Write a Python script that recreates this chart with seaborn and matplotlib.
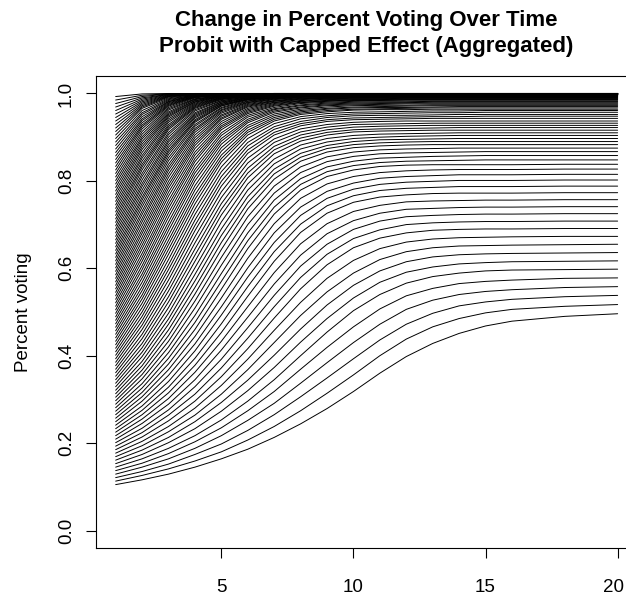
"""
Change in percent voting over time - probit with capped effect (aggregated).
One black line per starting group, values read off the original chart.
"""

import matplotlib
matplotlib.use("Agg")
import matplotlib.pyplot as plt
import matplotlib.transforms as mtransforms
import pandas as pd
import seaborn as sns

# ==================== Data (one list per time point, one entry per line) ====================
time_points = [1, 2, 3, 4, 5, 6, 7, 8, 9, 10, 11, 12, 13, 14, 15, 16, 18, 20]

p_t01 = [0.105, 0.113, 0.121, 0.129, 0.137, 0.145, 0.153, 0.161, 0.169, 0.177,
         0.185, 0.193, 0.201, 0.209, 0.217, 0.225, 0.233, 0.241, 0.249, 0.257,
         0.265, 0.273, 0.281, 0.289, 0.297, 0.305, 0.313, 0.321, 0.329, 0.337,
         0.345, 0.353, 0.361, 0.369, 0.377, 0.385, 0.393, 0.401, 0.409, 0.417,
         0.425, 0.433, 0.441, 0.449, 0.457, 0.465, 0.473, 0.481, 0.489, 0.497,
         0.505, 0.513, 0.521, 0.529, 0.537, 0.545, 0.553, 0.561, 0.569, 0.577,
         0.585, 0.593, 0.601, 0.609, 0.617, 0.625, 0.633, 0.641, 0.649, 0.657,
         0.665, 0.673, 0.681, 0.689, 0.697, 0.705, 0.713, 0.721, 0.729, 0.737,
         0.745, 0.753, 0.761, 0.769, 0.777, 0.785, 0.793, 0.801, 0.809, 0.817,
         0.825, 0.833, 0.841, 0.849, 0.857, 0.865, 0.873, 0.881, 0.889, 0.897,
         0.905, 0.913, 0.921, 0.929, 0.937, 0.945, 0.953, 0.961, 0.969, 0.977,
         0.985, 0.993]

p_t02 = [0.116, 0.126, 0.135, 0.145, 0.154, 0.164, 0.174, 0.184, 0.194, 0.204,
         0.214, 0.224, 0.234, 0.245, 0.255, 0.265, 0.275, 0.285, 0.296, 0.306,
         0.316, 0.326, 0.336, 0.347, 0.357, 0.367, 0.377, 0.387, 0.398, 0.408,
         0.418, 0.428, 0.439, 0.449, 0.460, 0.470, 0.480, 0.490, 0.500, 0.510,
         0.520, 0.530, 0.539, 0.549, 0.558, 0.568, 0.578, 0.587, 0.597, 0.606,
         0.616, 0.625, 0.634, 0.644, 0.653, 0.662, 0.671, 0.680, 0.688, 0.697,
         0.706, 0.714, 0.723, 0.731, 0.740, 0.748, 0.756, 0.763, 0.771, 0.779,
         0.787, 0.794, 0.802, 0.810, 0.817, 0.825, 0.832, 0.838, 0.845, 0.852,
         0.858, 0.865, 0.872, 0.878, 0.884, 0.890, 0.896, 0.901, 0.907, 0.913,
         0.919, 0.924, 0.928, 0.933, 0.938, 0.942, 0.947, 0.952, 0.956, 0.961,
         0.966, 0.969, 0.972, 0.975, 0.978, 0.981, 0.984, 0.987, 0.990, 0.993,
         0.996, 0.999]

p_t03 = [0.129, 0.141, 0.152, 0.164, 0.176, 0.188, 0.201, 0.213, 0.226, 0.238,
         0.251, 0.264, 0.276, 0.289, 0.302, 0.315, 0.328, 0.341, 0.355, 0.368,
         0.381, 0.394, 0.407, 0.420, 0.433, 0.446, 0.459, 0.472, 0.484, 0.497,
         0.510, 0.523, 0.535, 0.548, 0.560, 0.573, 0.585, 0.597, 0.608, 0.620,
         0.632, 0.643, 0.654, 0.664, 0.675, 0.686, 0.696, 0.706, 0.717, 0.727,
         0.737, 0.746, 0.755, 0.765, 0.774, 0.783, 0.791, 0.799, 0.808, 0.816,
         0.824, 0.831, 0.838, 0.846, 0.853, 0.860, 0.866, 0.871, 0.877, 0.883,
         0.889, 0.894, 0.900, 0.906, 0.911, 0.917, 0.921, 0.925, 0.929, 0.934,
         0.938, 0.942, 0.946, 0.949, 0.952, 0.955, 0.958, 0.962, 0.965, 0.968,
         0.971, 0.973, 0.975, 0.977, 0.979, 0.981, 0.982, 0.984, 0.986, 0.988,
         0.990, 0.992, 0.993, 0.994, 0.995, 0.996, 0.997, 0.998, 0.998, 0.999,
         0.999, 1.000]

p_t04 = [0.145, 0.159, 0.174, 0.188, 0.203, 0.217, 0.233, 0.249, 0.264, 0.280,
         0.296, 0.312, 0.329, 0.345, 0.362, 0.378, 0.394, 0.411, 0.427, 0.444,
         0.460, 0.476, 0.492, 0.509, 0.525, 0.541, 0.556, 0.571, 0.586, 0.601,
         0.616, 0.630, 0.644, 0.658, 0.672, 0.686, 0.698, 0.710, 0.723, 0.735,
         0.747, 0.758, 0.768, 0.779, 0.789, 0.800, 0.809, 0.818, 0.826, 0.835,
         0.844, 0.851, 0.859, 0.866, 0.874, 0.881, 0.887, 0.893, 0.899, 0.905,
         0.911, 0.916, 0.920, 0.925, 0.929, 0.934, 0.937, 0.940, 0.944, 0.947,
         0.950, 0.953, 0.956, 0.960, 0.963, 0.966, 0.968, 0.970, 0.972, 0.974,
         0.976, 0.978, 0.980, 0.981, 0.983, 0.984, 0.986, 0.987, 0.988, 0.990,
         0.991, 0.992, 0.992, 0.993, 0.993, 0.994, 0.995, 0.995, 0.996, 0.996,
         0.997, 0.997, 0.998, 0.998, 0.998, 0.999, 0.999, 0.999, 0.999, 1.000,
         1.000, 1.000]

p_t05 = [0.164, 0.180, 0.198, 0.217, 0.235, 0.253, 0.273, 0.293, 0.312, 0.332,
         0.352, 0.372, 0.392, 0.413, 0.433, 0.453, 0.473, 0.493, 0.512, 0.532,
         0.552, 0.570, 0.588, 0.607, 0.625, 0.643, 0.659, 0.675, 0.690, 0.706,
         0.722, 0.735, 0.748, 0.762, 0.775, 0.788, 0.799, 0.810, 0.821, 0.832,
         0.843, 0.851, 0.859, 0.868, 0.876, 0.884, 0.891, 0.897, 0.904, 0.910,
         0.917, 0.922, 0.926, 0.931, 0.936, 0.941, 0.944, 0.948, 0.951, 0.955,
         0.958, 0.961, 0.963, 0.966, 0.968, 0.971, 0.972, 0.974, 0.975, 0.977,
         0.978, 0.980, 0.981, 0.983, 0.984, 0.986, 0.987, 0.988, 0.989, 0.990,
         0.990, 0.991, 0.992, 0.993, 0.993, 0.994, 0.994, 0.995, 0.995, 0.996,
         0.996, 0.997, 0.997, 0.997, 0.998, 0.998, 0.998, 0.998, 0.999, 0.999,
         0.999, 0.999, 0.999, 0.999, 0.999, 0.999, 1.000, 1.000, 1.000, 1.000,
         1.000, 1.000]

p_t06 = [0.186, 0.207, 0.229, 0.252, 0.274, 0.296, 0.320, 0.344, 0.368, 0.392,
         0.416, 0.440, 0.464, 0.488, 0.512, 0.536, 0.558, 0.580, 0.601, 0.623,
         0.645, 0.663, 0.681, 0.700, 0.718, 0.736, 0.750, 0.764, 0.779, 0.793,
         0.807, 0.818, 0.829, 0.841, 0.852, 0.863, 0.871, 0.880, 0.888, 0.897,
         0.905, 0.911, 0.916, 0.922, 0.927, 0.933, 0.937, 0.941, 0.946, 0.950,
         0.954, 0.957, 0.960, 0.963, 0.966, 0.969, 0.971, 0.973, 0.975, 0.977,
         0.979, 0.980, 0.982, 0.983, 0.985, 0.986, 0.987, 0.987, 0.988, 0.989,
         0.990, 0.990, 0.991, 0.992, 0.992, 0.993, 0.993, 0.994, 0.994, 0.995,
         0.995, 0.996, 0.996, 0.997, 0.997, 0.997, 0.997, 0.998, 0.998, 0.998,
         0.998, 0.998, 0.999, 0.999, 0.999, 0.999, 0.999, 0.999, 0.999, 0.999,
         0.999, 0.999, 0.999, 0.999, 0.999, 0.999, 1.000, 1.000, 1.000, 1.000,
         1.000, 1.000]

p_t07 = [0.213, 0.238, 0.265, 0.291, 0.318, 0.345, 0.373, 0.401, 0.430, 0.458,
         0.486, 0.512, 0.538, 0.564, 0.590, 0.616, 0.638, 0.659, 0.681, 0.702,
         0.724, 0.740, 0.756, 0.772, 0.788, 0.804, 0.816, 0.827, 0.839, 0.850,
         0.862, 0.871, 0.879, 0.888, 0.896, 0.905, 0.911, 0.918, 0.924, 0.931,
         0.937, 0.941, 0.945, 0.949, 0.953, 0.957, 0.960, 0.963, 0.965, 0.968,
         0.971, 0.973, 0.975, 0.977, 0.979, 0.980, 0.982, 0.983, 0.984, 0.986,
         0.987, 0.988, 0.989, 0.990, 0.990, 0.991, 0.992, 0.992, 0.993, 0.993,
         0.994, 0.994, 0.995, 0.995, 0.995, 0.996, 0.996, 0.997, 0.997, 0.997,
         0.997, 0.998, 0.998, 0.998, 0.998, 0.998, 0.999, 0.999, 0.999, 0.999,
         0.999, 0.999, 0.999, 0.999, 0.999, 0.999, 0.999, 0.999, 0.999, 0.999,
         1.000, 1.000, 1.000, 1.000, 1.000, 1.000, 1.000, 1.000, 1.000, 1.000,
         1.000, 1.000]

p_t08 = [0.244, 0.274, 0.306, 0.337, 0.369, 0.400, 0.431, 0.461, 0.492, 0.522,
         0.553, 0.579, 0.605, 0.630, 0.656, 0.682, 0.701, 0.721, 0.740, 0.760,
         0.779, 0.792, 0.805, 0.819, 0.832, 0.845, 0.854, 0.863, 0.873, 0.882,
         0.891, 0.898, 0.905, 0.912, 0.919, 0.926, 0.931, 0.936, 0.942, 0.947,
         0.952, 0.955, 0.958, 0.961, 0.964, 0.967, 0.969, 0.972, 0.974, 0.977,
         0.979, 0.980, 0.982, 0.983, 0.984, 0.986, 0.987, 0.988, 0.989, 0.990,
         0.991, 0.992, 0.992, 0.993, 0.993, 0.994, 0.994, 0.995, 0.995, 0.995,
         0.995, 0.996, 0.996, 0.996, 0.996, 0.997, 0.997, 0.997, 0.997, 0.998,
         0.998, 0.998, 0.998, 0.998, 0.998, 0.998, 0.999, 0.999, 0.999, 0.999,
         0.999, 0.999, 0.999, 0.999, 0.999, 0.999, 0.999, 0.999, 0.999, 0.999,
         1.000, 1.000, 1.000, 1.000, 1.000, 1.000, 1.000, 1.000, 1.000, 1.000,
         1.000, 1.000]

p_t09 = [0.279, 0.314, 0.349, 0.384, 0.419, 0.454, 0.485, 0.516, 0.546, 0.577,
         0.608, 0.632, 0.655, 0.679, 0.702, 0.726, 0.743, 0.760, 0.776, 0.793,
         0.810, 0.821, 0.832, 0.844, 0.855, 0.866, 0.874, 0.881, 0.889, 0.897,
         0.905, 0.911, 0.917, 0.923, 0.929, 0.936, 0.940, 0.945, 0.949, 0.954,
         0.958, 0.961, 0.964, 0.966, 0.969, 0.972, 0.974, 0.976, 0.978, 0.980,
         0.982, 0.983, 0.984, 0.986, 0.987, 0.988, 0.989, 0.990, 0.990, 0.991,
         0.992, 0.993, 0.993, 0.994, 0.994, 0.995, 0.995, 0.995, 0.996, 0.996,
         0.996, 0.996, 0.997, 0.997, 0.997, 0.997, 0.998, 0.998, 0.998, 0.998,
         0.998, 0.998, 0.998, 0.998, 0.998, 0.999, 0.999, 0.999, 0.999, 0.999,
         0.999, 0.999, 0.999, 0.999, 0.999, 0.999, 0.999, 0.999, 0.999, 0.999,
         1.000, 1.000, 1.000, 1.000, 1.000, 1.000, 1.000, 1.000, 1.000, 1.000,
         1.000, 1.000]

p_t10 = [0.318, 0.356, 0.393, 0.430, 0.466, 0.503, 0.532, 0.561, 0.589, 0.618,
         0.647, 0.668, 0.689, 0.709, 0.730, 0.751, 0.766, 0.781, 0.795, 0.810,
         0.825, 0.835, 0.845, 0.856, 0.866, 0.876, 0.883, 0.890, 0.897, 0.904,
         0.912, 0.917, 0.923, 0.929, 0.934, 0.940, 0.944, 0.949, 0.953, 0.957,
         0.962, 0.964, 0.967, 0.969, 0.972, 0.974, 0.976, 0.978, 0.980, 0.982,
         0.984, 0.985, 0.986, 0.987, 0.988, 0.989, 0.990, 0.991, 0.991, 0.992,
         0.993, 0.993, 0.994, 0.994, 0.995, 0.995, 0.995, 0.996, 0.996, 0.996,
         0.997, 0.997, 0.997, 0.997, 0.998, 0.998, 0.998, 0.998, 0.998, 0.998,
         0.998, 0.999, 0.999, 0.999, 0.999, 0.999, 0.999, 0.999, 0.999, 0.999,
         0.999, 0.999, 0.999, 0.999, 0.999, 0.999, 0.999, 0.999, 0.999, 0.999,
         1.000, 1.000, 1.000, 1.000, 1.000, 1.000, 1.000, 1.000, 1.000, 1.000,
         1.000, 1.000]

p_t11 = [0.360, 0.400, 0.436, 0.472, 0.507, 0.540, 0.568, 0.594, 0.620, 0.645,
         0.669, 0.688, 0.708, 0.726, 0.744, 0.763, 0.778, 0.792, 0.806, 0.819,
         0.833, 0.842, 0.852, 0.862, 0.871, 0.880, 0.887, 0.894, 0.900, 0.907,
         0.914, 0.919, 0.925, 0.930, 0.936, 0.941, 0.945, 0.950, 0.954, 0.958,
         0.963, 0.965, 0.968, 0.970, 0.973, 0.975, 0.977, 0.979, 0.981, 0.983,
         0.984, 0.985, 0.986, 0.987, 0.988, 0.989, 0.990, 0.991, 0.991, 0.992,
         0.993, 0.993, 0.994, 0.994, 0.995, 0.995, 0.995, 0.996, 0.996, 0.996,
         0.997, 0.997, 0.997, 0.997, 0.998, 0.998, 0.998, 0.998, 0.998, 0.998,
         0.998, 0.999, 0.999, 0.999, 0.999, 0.999, 0.999, 0.999, 0.999, 0.999,
         0.999, 0.999, 0.999, 0.999, 0.999, 0.999, 0.999, 0.999, 0.999, 0.999,
         1.000, 1.000, 1.000, 1.000, 1.000, 1.000, 1.000, 1.000, 1.000, 1.000,
         1.000, 1.000]

p_t12 = [0.398, 0.438, 0.472, 0.506, 0.537, 0.566, 0.591, 0.615, 0.638, 0.660,
         0.681, 0.700, 0.718, 0.735, 0.752, 0.768, 0.783, 0.797, 0.810, 0.823,
         0.836, 0.845, 0.854, 0.864, 0.873, 0.882, 0.889, 0.895, 0.902, 0.908,
         0.915, 0.920, 0.926, 0.931, 0.937, 0.942, 0.946, 0.950, 0.955, 0.959,
         0.963, 0.966, 0.968, 0.971, 0.973, 0.976, 0.978, 0.979, 0.981, 0.983,
         0.985, 0.986, 0.987, 0.988, 0.989, 0.990, 0.991, 0.992, 0.992, 0.993,
         0.994, 0.994, 0.995, 0.995, 0.996, 0.996, 0.996, 0.996, 0.997, 0.997,
         0.997, 0.997, 0.997, 0.998, 0.998, 0.998, 0.998, 0.998, 0.998, 0.998,
         0.999, 0.999, 0.999, 0.999, 0.999, 0.999, 0.999, 0.999, 0.999, 0.999,
         0.999, 0.999, 0.999, 0.999, 0.999, 0.999, 0.999, 0.999, 0.999, 0.999,
         1.000, 1.000, 1.000, 1.000, 1.000, 1.000, 1.000, 1.000, 1.000, 1.000,
         1.000, 1.000]

p_t13 = [0.428, 0.466, 0.497, 0.527, 0.554, 0.581, 0.603, 0.626, 0.647, 0.667,
         0.687, 0.704, 0.721, 0.737, 0.754, 0.771, 0.785, 0.799, 0.812, 0.825,
         0.837, 0.846, 0.856, 0.865, 0.874, 0.883, 0.890, 0.896, 0.903, 0.909,
         0.916, 0.921, 0.927, 0.932, 0.937, 0.943, 0.947, 0.951, 0.956, 0.960,
         0.964, 0.967, 0.969, 0.972, 0.974, 0.976, 0.978, 0.980, 0.982, 0.983,
         0.985, 0.986, 0.987, 0.988, 0.989, 0.990, 0.991, 0.992, 0.992, 0.993,
         0.994, 0.994, 0.995, 0.995, 0.996, 0.996, 0.996, 0.996, 0.997, 0.997,
         0.997, 0.997, 0.997, 0.998, 0.998, 0.998, 0.998, 0.998, 0.998, 0.998,
         0.999, 0.999, 0.999, 0.999, 0.999, 0.999, 0.999, 0.999, 0.999, 0.999,
         0.999, 0.999, 0.999, 0.999, 0.999, 0.999, 0.999, 0.999, 0.999, 0.999,
         1.000, 1.000, 1.000, 1.000, 1.000, 1.000, 1.000, 1.000, 1.000, 1.000,
         1.000, 1.000]

p_t14 = [0.451, 0.485, 0.514, 0.540, 0.565, 0.589, 0.610, 0.631, 0.651, 0.670,
         0.689, 0.706, 0.723, 0.739, 0.755, 0.772, 0.787, 0.801, 0.814, 0.826,
         0.837, 0.847, 0.857, 0.866, 0.875, 0.883, 0.890, 0.897, 0.904, 0.910,
         0.916, 0.922, 0.927, 0.932, 0.937, 0.943, 0.947, 0.952, 0.956, 0.960,
         0.964, 0.967, 0.970, 0.972, 0.974, 0.976, 0.978, 0.980, 0.982, 0.983,
         0.985, 0.986, 0.987, 0.988, 0.989, 0.990, 0.991, 0.992, 0.992, 0.993,
         0.994, 0.994, 0.995, 0.995, 0.996, 0.996, 0.996, 0.996, 0.997, 0.997,
         0.997, 0.997, 0.997, 0.998, 0.998, 0.998, 0.998, 0.998, 0.998, 0.998,
         0.999, 0.999, 0.999, 0.999, 0.999, 0.999, 0.999, 0.999, 0.999, 0.999,
         0.999, 0.999, 0.999, 0.999, 0.999, 0.999, 0.999, 0.999, 0.999, 0.999,
         1.000, 1.000, 1.000, 1.000, 1.000, 1.000, 1.000, 1.000, 1.000, 1.000,
         1.000, 1.000]

p_t15 = [0.468, 0.498, 0.523, 0.547, 0.570, 0.594, 0.613, 0.633, 0.652, 0.671,
         0.690, 0.707, 0.724, 0.740, 0.756, 0.772, 0.787, 0.801, 0.814, 0.826,
         0.837, 0.848, 0.858, 0.867, 0.875, 0.883, 0.890, 0.897, 0.904, 0.910,
         0.916, 0.922, 0.927, 0.932, 0.937, 0.943, 0.948, 0.952, 0.957, 0.961,
         0.964, 0.967, 0.970, 0.972, 0.974, 0.976, 0.978, 0.980, 0.982, 0.983,
         0.985, 0.986, 0.987, 0.988, 0.989, 0.990, 0.991, 0.992, 0.992, 0.993,
         0.994, 0.994, 0.995, 0.995, 0.996, 0.996, 0.996, 0.997, 0.997, 0.997,
         0.997, 0.997, 0.998, 0.998, 0.998, 0.998, 0.998, 0.998, 0.998, 0.998,
         0.999, 0.999, 0.999, 0.999, 0.999, 0.999, 0.999, 0.999, 0.999, 0.999,
         0.999, 0.999, 0.999, 0.999, 0.999, 0.999, 0.999, 0.999, 0.999, 0.999,
         1.000, 1.000, 1.000, 1.000, 1.000, 1.000, 1.000, 1.000, 1.000, 1.000,
         1.000, 1.000]

p_t16 = [0.479, 0.506, 0.529, 0.551, 0.573, 0.596, 0.615, 0.634, 0.653, 0.672,
         0.690, 0.707, 0.724, 0.740, 0.756, 0.772, 0.787, 0.801, 0.814, 0.826,
         0.837, 0.848, 0.858, 0.867, 0.875, 0.883, 0.890, 0.897, 0.904, 0.910,
         0.916, 0.922, 0.927, 0.932, 0.937, 0.943, 0.948, 0.952, 0.957, 0.961,
         0.964, 0.967, 0.970, 0.972, 0.974, 0.976, 0.978, 0.980, 0.982, 0.983,
         0.985, 0.986, 0.987, 0.988, 0.989, 0.990, 0.991, 0.992, 0.992, 0.993,
         0.994, 0.994, 0.995, 0.995, 0.996, 0.996, 0.996, 0.997, 0.997, 0.997,
         0.997, 0.997, 0.998, 0.998, 0.998, 0.998, 0.998, 0.998, 0.998, 0.998,
         0.999, 0.999, 0.999, 0.999, 0.999, 0.999, 0.999, 0.999, 0.999, 0.999,
         0.999, 0.999, 0.999, 0.999, 0.999, 0.999, 0.999, 0.999, 0.999, 0.999,
         1.000, 1.000, 1.000, 1.000, 1.000, 1.000, 1.000, 1.000, 1.000, 1.000,
         1.000, 1.000]

p_t18 = [0.490, 0.513, 0.535, 0.556, 0.577, 0.597, 0.616, 0.635, 0.654, 0.673,
         0.691, 0.708, 0.725, 0.741, 0.757, 0.773, 0.788, 0.802, 0.815, 0.827,
         0.838, 0.848, 0.858, 0.867, 0.875, 0.883, 0.890, 0.897, 0.904, 0.910,
         0.916, 0.922, 0.927, 0.932, 0.937, 0.943, 0.948, 0.952, 0.957, 0.961,
         0.964, 0.967, 0.970, 0.972, 0.974, 0.976, 0.978, 0.980, 0.982, 0.983,
         0.985, 0.986, 0.987, 0.988, 0.989, 0.990, 0.991, 0.992, 0.992, 0.993,
         0.994, 0.994, 0.995, 0.995, 0.996, 0.996, 0.996, 0.997, 0.997, 0.997,
         0.997, 0.997, 0.998, 0.998, 0.998, 0.998, 0.998, 0.998, 0.998, 0.998,
         0.999, 0.999, 0.999, 0.999, 0.999, 0.999, 0.999, 0.999, 0.999, 0.999,
         0.999, 0.999, 0.999, 0.999, 0.999, 0.999, 0.999, 0.999, 0.999, 0.999,
         1.000, 1.000, 1.000, 1.000, 1.000, 1.000, 1.000, 1.000, 1.000, 1.000,
         1.000, 1.000]

p_t20 = [0.496, 0.517, 0.538, 0.558, 0.578, 0.598, 0.617, 0.636, 0.655, 0.673,
         0.691, 0.708, 0.725, 0.741, 0.757, 0.773, 0.788, 0.802, 0.815, 0.827,
         0.838, 0.848, 0.858, 0.867, 0.875, 0.883, 0.890, 0.897, 0.904, 0.910,
         0.916, 0.922, 0.927, 0.932, 0.937, 0.943, 0.948, 0.952, 0.957, 0.961,
         0.964, 0.967, 0.970, 0.972, 0.974, 0.976, 0.978, 0.980, 0.982, 0.983,
         0.985, 0.986, 0.987, 0.988, 0.989, 0.990, 0.991, 0.992, 0.992, 0.993,
         0.994, 0.994, 0.995, 0.995, 0.996, 0.996, 0.996, 0.997, 0.997, 0.997,
         0.997, 0.997, 0.998, 0.998, 0.998, 0.998, 0.998, 0.998, 0.998, 0.998,
         0.999, 0.999, 0.999, 0.999, 0.999, 0.999, 0.999, 0.999, 0.999, 0.999,
         0.999, 0.999, 0.999, 0.999, 0.999, 0.999, 0.999, 0.999, 0.999, 0.999,
         1.000, 1.000, 1.000, 1.000, 1.000, 1.000, 1.000, 1.000, 1.000, 1.000,
         1.000, 1.000]

columns = [p_t01, p_t02, p_t03, p_t04, p_t05, p_t06, p_t07, p_t08, p_t09,
           p_t10, p_t11, p_t12, p_t13, p_t14, p_t15, p_t16, p_t18, p_t20]

y_ticks = [0.0, 0.2, 0.4, 0.6, 0.8, 1.0]
y_tick_labels = ["0.0", "0.2", "0.4", "0.6", "0.8", "1.0"]
x_ticks = [5, 10, 15, 20]

# ==================== Long format for seaborn ====================
rows = []
for t, col in zip(time_points, columns):
    for line_id, val in enumerate(col):
        rows.append({"line": line_id, "time": t, "pct": val})
df = pd.DataFrame(rows)

# ==================== Plot ====================
sns.set_style("ticks")
plt.rcParams["font.family"] = ["Liberation Sans", "DejaVu Sans"]

fig = plt.figure(figsize=(6.26, 5.97), dpi=100)
# right edge of the box sits just past the canvas, like the original crop
ax = fig.add_axes([0.1527, 0.0821, 0.8660, 0.7906])

sns.lineplot(data=df, x="time", y="pct", units="line", estimator=None,
             color="black", linewidth=0.7, legend=False, ax=ax)

ax.set_xlim(0.24, 20.76)
ax.set_ylim(-0.04, 1.04)
ax.set_xticks(x_ticks)
ax.set_yticks(y_ticks)
ax.set_yticklabels(y_tick_labels)

for sp in ax.spines.values():
    sp.set_visible(True)
    sp.set_color("black")
    sp.set_linewidth(0.8)

ax.tick_params(axis="both", direction="out", length=7.5, width=0.8,
               color="black", labelcolor="black", labelsize=13.5)
ax.tick_params(axis="x", pad=14.5)
ax.tick_params(axis="y", pad=7.5, labelrotation=90)
for lbl in ax.get_yticklabels():
    lbl.set_verticalalignment("center")

# last x label sits at the canvas edge: nudge it in a few pixels so it stays whole
last_lbl = ax.get_xticklabels()[-1]
last_lbl.set_transform(last_lbl.get_transform() +
                       mtransforms.ScaledTranslation(-4 / 100, 0, fig.dpi_scale_trans))

ax.set_xlabel("")
ax.set_ylabel("Percent voting", fontsize=13.5, color="black")
ax.yaxis.set_label_coords(-0.1173, 0.5)

ax.set_title("Change in Percent Voting Over Time\nProbit with Capped Effect (Aggregated)",
             fontsize=16, fontweight="bold", color="black", va="bottom",
             linespacing=1.35, pad=13.5)

fig.savefig("out.png", dpi=100)
plt.close(fig)
